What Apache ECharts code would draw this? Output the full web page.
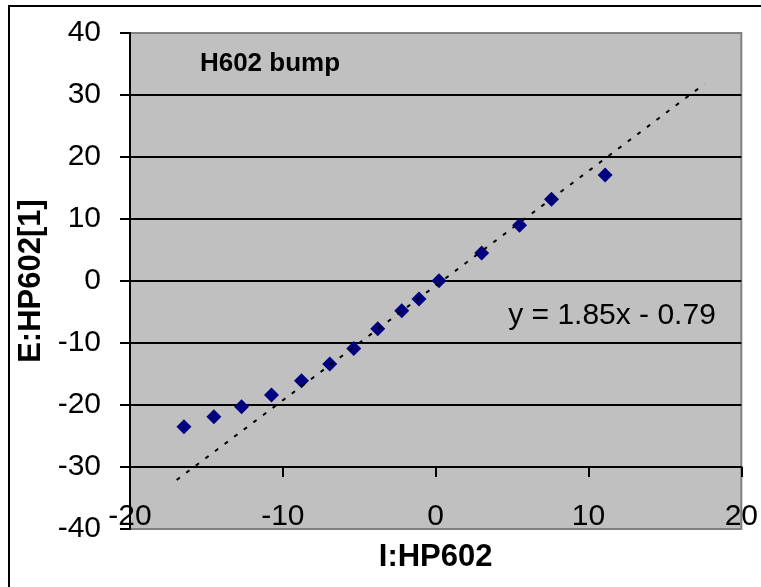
<!DOCTYPE html>
<html>
<head>
<meta charset="utf-8">
<script src="https://cdn.jsdelivr.net/npm/echarts@6/dist/echarts.min.js"></script>
<style>
html,body{margin:0;padding:0;background:#fff;}
#chart{width:761px;height:587px;}
</style>
</head>
<body>
<div id="chart"></div>
<script>
// Observed points (I:HP602 vs E:HP602[1])
const xVals = [-16.47, -14.51, -12.70, -10.74, -8.78, -6.93, -5.36, -3.79, -2.22, -1.09, 0.22, 3.01, 5.49, 7.58, 11.09];
const yVals = [-23.5, -21.9, -20.3, -18.4, -16.1, -13.4, -10.9, -7.7, -4.8, -2.9, 0.05, 4.5, 9.0, 13.2, 17.1];
// Trendline end points as drawn
const trendX = [-16.95, 17.6];
const trendY = [-32.1, 31.8];
const titleText = 'H602 bump';
const equationText = 'y = 1.85x - 0.79';
const xName = 'I:HP602';
const yName = 'E:HP602[1]';

const FONT = "'Liberation Sans', Arial, sans-serif";
const chart = echarts.init(document.getElementById('chart'), null, {renderer: 'canvas'});

const option = {
  backgroundColor: '#ffffff',
  animation: false,
  grid: {
    left: 130, right: 19, top: 33, bottom: 58,
    show: true, backgroundColor: '#C0C0C0', borderColor: '#808080', borderWidth: 2
  },
  xAxis: {
    type: 'value', min: -20, max: 20, interval: 10,
    offset: -62,
    name: xName, nameLocation: 'middle', nameGap: 75,
    nameTextStyle: {fontFamily: FONT, fontSize: 31, fontWeight: 'bold', color: '#000'},
    axisLine: {onZero: false, lineStyle: {color: '#000', width: 2}},
    axisTick: {show: true, inside: false, length: 10, lineStyle: {color: '#000', width: 2}},
    axisLabel: {margin: 35, fontFamily: FONT, fontSize: 30, color: '#000'},
    splitLine: {show: false}
  },
  yAxis: {
    type: 'value', min: -40, max: 40, interval: 10,
    name: yName, nameLocation: 'middle', nameGap: 78, nameRotate: 90,
    nameTextStyle: {fontFamily: FONT, fontSize: 31, fontWeight: 'bold', color: '#000'},
    axisLine: {onZero: false, lineStyle: {color: '#000', width: 2}},
    axisTick: {show: true, inside: false, length: 10, lineStyle: {color: '#000', width: 2}},
    axisLabel: {margin: 29, fontFamily: FONT, fontSize: 30, color: '#000'},
    splitLine: {show: true, showMinLine: false, showMaxLine: false, lineStyle: {color: '#000', width: 2}}
  },
  series: [
    {
      type: 'scatter',
      data: xVals.map((x, i) => [x, yVals[i]]),
      symbol: 'diamond', symbolSize: 15,
      itemStyle: {color: '#000080', opacity: 1},
      z: 3
    },
    {
      type: 'line',
      data: trendX.map((x, i) => [x, trendY[i]]),
      showSymbol: false, symbol: 'none',
      lineStyle: {color: '#000', width: 2, type: [4, 8]},
      z: 4
    }
  ],
  graphic: [
    {type: 'rect', shape: {x: 9, y: 6, width: 800, height: 700}, style: {fill: null, stroke: '#000', lineWidth: 2}, z: 10, silent: true},
    {type: 'text', x: 270, y: 64, style: {text: titleText, font: "bold 26px 'Liberation Sans', Arial, sans-serif", fill: '#000', textAlign: 'center', textVerticalAlign: 'middle'}, z: 10},
    {type: 'text', x: 612, y: 316, style: {text: equationText, font: "30px 'Liberation Sans', Arial, sans-serif", fill: '#000', textAlign: 'center', textVerticalAlign: 'middle'}, z: 10}
  ]
};
chart.setOption(option);
</script>
</body>
</html>
